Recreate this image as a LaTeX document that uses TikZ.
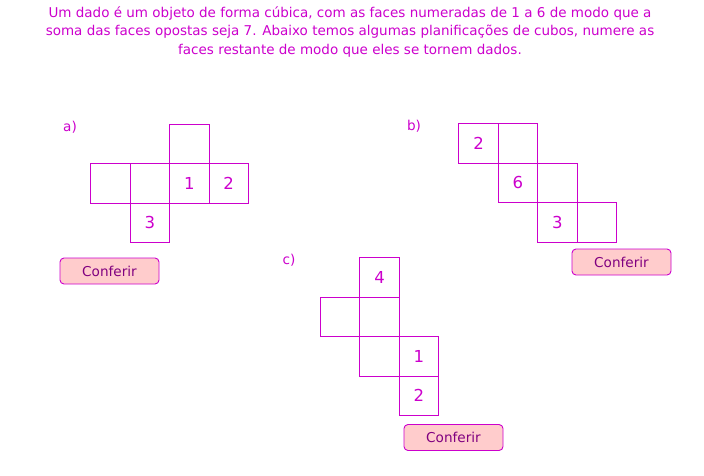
\documentclass[tikz,border=0pt]{standalone}
\usepackage{fontspec}
\setmainfont{DejaVu Sans}
\usepackage{tikz}
\usetikzlibrary{positioning}
\definecolor{netline}{RGB}{204,0,204}
\definecolor{btnfill}{RGB}{255,204,204}
\definecolor{btntext}{RGB}{128,0,128}

\begin{document}
\begin{tikzpicture}[
  x=1pt, y=-1pt,
  cell/.style={draw=netline, line width=0.9pt, minimum size=39.4pt, inner sep=0pt,
               outer sep=0pt, text=netline, font=\fontsize{16.5}{16.5}\selectfont},
  button/.style={draw=netline, fill=btnfill, rounded corners=4pt, line width=0.9pt,
                 minimum width=99pt, minimum height=26pt, inner sep=0pt,
                 text=btntext, font=\fontsize{13.6}{13.6}\selectfont},
  part/.style={text=netline, font=\fontsize{13.6}{13.6}\selectfont}
]
\useasboundingbox (0,0) rectangle (704,476);

% --- Statement ---
\node[text=netline, align=center, font=\fontsize{13.5}{18.6}\selectfont] (statement) at (350,32)
  {Um dado é um objeto de forma cúbica, com as faces numeradas de 1 a 6 de modo que a\\
   soma das faces opostas seja 7. Abaixo temos algumas planificações de cubos, numere as\\
   faces restante de modo que eles se tornem dados.};

% --- Net a) ---
\node[part] (labela) at (70,127) {a)};
\node[cell] (a1) at (110.5,183.5) {};
\node[cell, right=0pt of a1] (a2) {};
\node[cell, right=0pt of a2] (a3) {1};
\node[cell, right=0pt of a3] (a4) {2};
\node[cell, above=0pt of a3] (a5) {};
\node[cell, below=0pt of a2] (a6) {3};
\node[button] (checka) at (109.5,271) {Conferir};

% --- Net b) ---
\node[part] (labelb) at (414,126) {b)};
\node[cell] (b1) at (478.5,143.5) {2};
\node[cell, right=0pt of b1] (b2) {};
\node[cell, below=0pt of b2] (b3) {6};
\node[cell, right=0pt of b3] (b4) {};
\node[cell, below=0pt of b4] (b5) {3};
\node[cell, right=0pt of b5] (b6) {};
\node[button] (checkb) at (621.5,262) {Conferir};

% --- Net c) ---
\node[part] (labelc) at (289,260) {c)};
\node[cell] (c1) at (379.5,277.5) {4};
\node[cell, below=0pt of c1] (c2) {};
\node[cell, left=0pt of c2] (c3) {};
\node[cell, below=0pt of c2] (c4) {};
\node[cell, right=0pt of c4] (c5) {1};
\node[cell, below=0pt of c5] (c6) {2};
\node[button] (checkc) at (453.5,437.5) {Conferir};

\end{tikzpicture}
\end{document}
